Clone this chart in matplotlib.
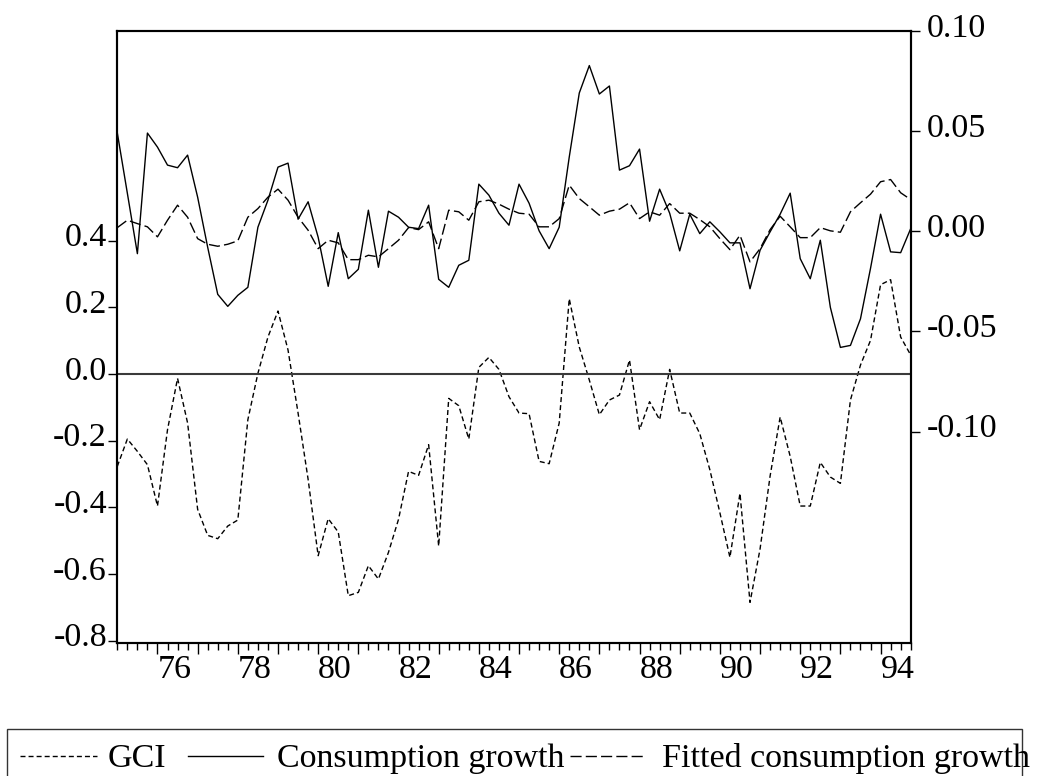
import matplotlib
matplotlib.use("Agg")
import matplotlib.pyplot as plt
from matplotlib.lines import Line2D
from matplotlib.patches import Rectangle
from matplotlib.ticker import MultipleLocator
from matplotlib.transforms import ScaledTranslation
import numpy as np

plt.rcParams['font.family'] = ['Liberation Serif', 'DejaVu Serif']

# quarterly data 1975Q1 - 1994Q4
start_year = 1975
quarters = np.arange(80)
dates = start_year + quarters / 4

# GCI (left scale)
gci = [-0.277, -0.195, -0.232, -0.272, -0.396, -0.167, -0.013, -0.147, -0.406, -0.484,
       -0.494, -0.456, -0.438, -0.137, 0.002, 0.111, 0.189, 0.072, -0.117, -0.316,
       -0.545, -0.434, -0.474, -0.665, -0.655, -0.575, -0.615, -0.535, -0.436, -0.292,
       -0.304, -0.212, -0.516, -0.073, -0.095, -0.195, 0.020, 0.050, 0.014, -0.068,
       -0.117, -0.119, -0.262, -0.269, -0.147, 0.226, 0.081, -0.018, -0.122, -0.078,
       -0.063, 0.042, -0.167, -0.083, -0.137, 0.014, -0.117, -0.117, -0.179, -0.287,
       -0.416, -0.550, -0.358, -0.685, -0.525, -0.306, -0.129, -0.247, -0.396, -0.396,
       -0.265, -0.309, -0.328, -0.078, 0.027, 0.101, 0.268, 0.283, 0.111, 0.057]

# consumption growth (right scale)
consumption = [0.0491, 0.019, -0.0112, 0.049, 0.042, 0.033, 0.0317, 0.038, 0.017, -0.008,
               -0.0315, -0.0375, -0.032, -0.028, 0.002, 0.0155, 0.032, 0.034, 0.006, 0.0147,
               -0.003, -0.0275, -0.0007, -0.0237, -0.019, 0.0105, -0.018, 0.010, 0.007, 0.002,
               0.0013, 0.013, -0.024, -0.028, -0.017, -0.0145, 0.0235, 0.018, 0.009, 0.003,
               0.0235, 0.014, 0.0002, -0.0087, 0.002, 0.037, 0.069, 0.0827, 0.0685, 0.0725,
               0.0305, 0.0327, 0.041, 0.005, 0.021, 0.009, -0.0098, 0.0085, -0.0012, 0.0047,
               -0.0003, -0.0058, -0.0058, -0.0287, -0.0095, -0.0003, 0.0085, 0.019, -0.0137, -0.0237,
               -0.0045, -0.038, -0.058, -0.057, -0.0437, -0.0185, 0.0085, -0.0103, -0.0107, 0.0013]

# fitted consumption growth (right scale)
fitted = [0.0018, 0.0055, 0.0038, 0.0022, -0.0028, 0.0055, 0.013, 0.007, -0.0037, -0.0065,
          -0.0075, -0.0065, -0.0048, 0.007, 0.0113, 0.017, 0.021, 0.0155, 0.007, 0.0005,
          -0.0087, -0.0045, -0.0058, -0.0142, -0.0142, -0.012, -0.0128, -0.0087, -0.0045, 0.0018,
          0.0008, 0.0047, -0.0087, 0.0105, 0.0097, 0.0055, 0.0147, 0.0155, 0.0135, 0.011,
          0.009, 0.0085, 0.0022, 0.0022, 0.0063, 0.023, 0.0163, 0.0122, 0.008, 0.010,
          0.011, 0.0142, 0.0063, 0.0097, 0.008, 0.0138, 0.009, 0.009, 0.0058, 0.0022,
          -0.0037, -0.0092, -0.002, -0.0153, -0.0087, 0.0008, 0.0075, 0.0022, -0.0032, -0.0032,
          0.0018, 0.0002, -0.0005, 0.0097, 0.0142, 0.0185, 0.0247, 0.0258, 0.0192, 0.0158]

left_ticks = [0.4, 0.2, 0.0, -0.2, -0.4, -0.6, -0.8]
right_ticks = [0.10, 0.05, 0.00, -0.05, -0.10]
label_years = list(range(1976, 1995))

W, H = 1040, 776
fig = plt.figure(figsize=(W / 100, H / 100), dpi=100)

def fx(px):
    return px / W

def fy(py):
    return 1 - py / H

gci_dash = (3.6, 2.2)
fit_dash = (8, 3)

ax = fig.add_axes([fx(117.3), fy(642.7), fx(910.7) - fx(117.3), fy(30.7) - fy(642.7)])
ax2 = ax.twinx()

ax.plot(dates, gci, color='black', lw=1.0, dashes=gci_dash)
ax.axhline(0, color='#3a3a3a', lw=1.5)
ax2.plot(dates, consumption, color='black', lw=1.0)
ax2.plot(dates, fitted, color='black', lw=1.0, dashes=fit_dash)

ax.set_xlim(1975, 1994.75)
ax.set_ylim(-0.806, 1.03)
ax2.set_ylim(-0.2054, 0.1001)

ax.set_xticks(label_years)
ax.set_xticklabels([str(y)[2:] if y % 2 == 0 else '' for y in label_years])
for lbl in ax.get_xticklabels():
    lbl.set_horizontalalignment('left')
ax.xaxis.set_minor_locator(MultipleLocator(0.25))
ax.tick_params(axis='x', which='major', length=8, width=1, direction='out', pad=0.5, labelsize=24.5)
ax.tick_params(axis='x', which='minor', length=4.7, width=1, direction='out')

ax.set_yticks(left_ticks)
ax.set_yticklabels(['%.1f' % v for v in left_ticks])
ax.tick_params(axis='y', length=6.5, width=1, direction='out', pad=1, labelsize=24.5)

ax2.set_yticks(right_ticks)
ax2.set_yticklabels(['%.2f' % v for v in right_ticks])
ax2.tick_params(axis='y', length=6.5, width=1, direction='out', pad=5, labelsize=24.5)

# EViews puts the numbers a bit above their ticks
up = ScaledTranslation(0, 0.06, fig.dpi_scale_trans)
for lbl in ax.get_yticklabels() + ax2.get_yticklabels():
    lbl.set_transform(lbl.get_transform() + up)

for a in (ax, ax2):
    for s in a.spines.values():
        s.set_linewidth(1.5)

# legend box, EViews style
fig.add_artist(Rectangle((fx(7), fy(800)), fx(1022) - fx(7), fy(729) - fy(800),
                         transform=fig.transFigure, fill=False, edgecolor='#333333', lw=1))
ly = fy(756)
fig.add_artist(Line2D([fx(20), fx(97)], [ly, ly], color='black', lw=1.0, dashes=gci_dash))
fig.add_artist(Line2D([fx(188), fx(263)], [ly, ly], color='black', lw=1.0))
fig.add_artist(Line2D([fx(570), fx(643)], [ly, ly], color='black', lw=1.0, dashes=fit_dash))
for x0, txt in [(108, 'GCI'), (277, 'Consumption growth'), (662, 'Fitted consumption growth')]:
    fig.text(fx(x0), fy(767), txt, fontsize=24.5, ha='left', va='baseline')

fig.savefig('out.png', dpi=100)
